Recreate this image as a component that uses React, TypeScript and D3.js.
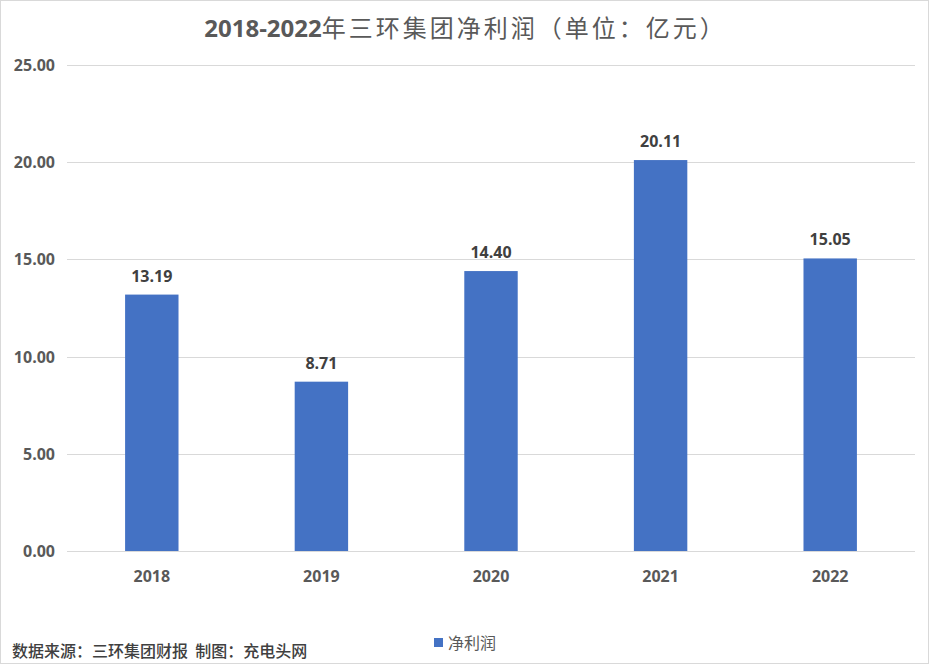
import React, { useEffect, useRef } from 'react';
import * as d3 from 'd3';

const years = ['2018', '2019', '2020', '2021', '2022'];
const netProfit = [13.19, 8.71, 14.4, 20.11, 15.05];
const yTicks = [0, 5, 10, 15, 20, 25];

const titleYears = '2018-2022';
const titleRest = '年三环集团净利润（单位：亿元）';
const seriesName = '净利润';
const sourceNote = '数据来源：三环集团财报  制图：充电头网';

const App: React.FC = () => {
  const svgRef = useRef<SVGSVGElement | null>(null);

  useEffect(() => {
    if (!svgRef.current) return;
    const svg = d3.select(svgRef.current);
    svg.selectAll('*').remove();

    const width = 931;
    const height = 667;
    const margin = { top: 65, right: 16, bottom: 116, left: 67 };
    const font = "'Open Sans', 'Noto Sans CJK SC', sans-serif";
    const cjkFont = "'Noto Sans CJK SC', sans-serif";
    const textColor = '#595959';

    svg.attr('width', width).attr('height', height)
      .style('position', 'absolute')
      .style('left', '0px')
      .style('top', '0px');

    // chart border
    svg.append('rect')
      .attr('x', 0.5).attr('y', 0.5)
      .attr('width', width - 3).attr('height', height - 4)
      .attr('fill', '#fff')
      .attr('stroke', '#d9d9d9');

    const x = d3.scaleBand<string>()
      .domain(years)
      .range([margin.left, width - margin.right])
      .paddingInner(0.685)
      .paddingOuter(0.3425);

    const y = d3.scaleLinear()
      .domain([0, 25])
      .range([height - margin.bottom, margin.top]);

    // gridlines
    svg.append('g')
      .selectAll('line')
      .data(yTicks)
      .enter().append('line')
      .attr('x1', margin.left)
      .attr('x2', width - margin.right)
      .attr('y1', d => Math.round(y(d)) + 0.5)
      .attr('y2', d => Math.round(y(d)) + 0.5)
      .attr('stroke', '#d9d9d9')
      .attr('stroke-width', 1);

    // y labels
    svg.append('g')
      .selectAll('text')
      .data(yTicks)
      .enter().append('text')
      .attr('x', 55)
      .attr('y', d => y(d) + 6)
      .attr('text-anchor', 'end')
      .attr('font-family', font)
      .attr('font-weight', 700)
      .attr('font-size', 16)
      .attr('fill', textColor)
      .text(d => d.toFixed(2));

    // bars
    svg.append('g')
      .selectAll('rect')
      .data(netProfit)
      .enter().append('rect')
      .attr('x', (d, i) => x(years[i]) as number)
      .attr('y', d => y(d))
      .attr('width', x.bandwidth())
      .attr('height', d => y(0) - y(d))
      .attr('fill', '#4472c4');

    // value labels
    svg.append('g')
      .selectAll('text')
      .data(netProfit)
      .enter().append('text')
      .attr('x', (d, i) => (x(years[i]) as number) + x.bandwidth() / 2)
      .attr('y', d => y(d) - 13)
      .attr('text-anchor', 'middle')
      .attr('font-family', font)
      .attr('font-weight', 700)
      .attr('font-size', 16)
      .attr('fill', '#404040')
      .text(d => d.toFixed(2));

    // x labels
    svg.append('g')
      .selectAll('text')
      .data(years)
      .enter().append('text')
      .attr('x', d => (x(d) as number) + x.bandwidth() / 2)
      .attr('y', y(0) + 31)
      .attr('text-anchor', 'middle')
      .attr('font-family', font)
      .attr('font-weight', 700)
      .attr('font-size', 16)
      .attr('fill', textColor)
      .text(d => d);

    // title: bold digits, regular CJK
    const title = svg.append('text')
      .attr('x', width / 2)
      .attr('y', 37)
      .attr('text-anchor', 'middle')
      .attr('font-size', 24)
      .attr('fill', textColor);
    title.append('tspan')
      .attr('font-family', font)
      .attr('font-weight', 700)
      .text(titleYears);
    title.append('tspan')
      .attr('font-family', cjkFont)
      .attr('font-weight', 400)
      .attr('letter-spacing', 3)
      .text(titleRest);

    // legend
    svg.append('rect')
      .attr('x', 434).attr('y', 638)
      .attr('width', 9).attr('height', 9)
      .attr('fill', '#4472c4');
    svg.append('text')
      .attr('x', 448)
      .attr('y', 649)
      .attr('font-family', cjkFont)
      .attr('font-size', 16)
      .attr('fill', textColor)
      .text(seriesName);

    // source note
    svg.append('text')
      .attr('x', 12)
      .attr('y', 657)
      .attr('font-family', cjkFont)
      .attr('font-size', 16)
      .attr('font-weight', 500)
      .attr('fill', '#404040')
      .style('white-space', 'pre')
      .text(sourceNote);
  }, []);

  return <svg ref={svgRef}></svg>;
};

export default App;
